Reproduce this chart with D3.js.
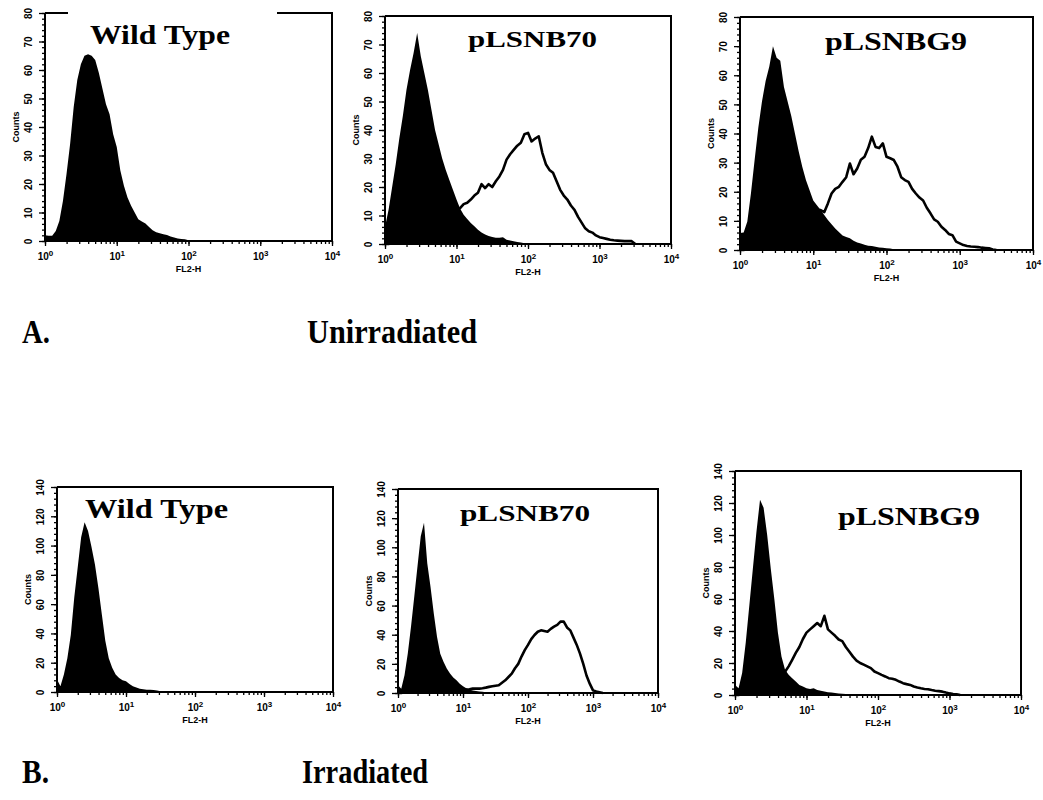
<!DOCTYPE html>
<html>
<head>
<meta charset="utf-8">
<script src="https://cdn.jsdelivr.net/npm/d3@7"></script>
<style>
body { margin: 0; background: #fff; }
svg { display: block; }
</style>
</head>
<body>
<div id="chart"></div>
<script>

// FL2-H channel positions, in decades (log10 of fluorescence)
var decades = [0, 0.05, 0.1, 0.15, 0.2, 0.25, 0.3, 0.35, 0.4, 0.45, 0.5, 0.55, 0.6, 0.65, 0.7, 0.75, 0.8, 0.85, 0.9, 0.95,
    1, 1.05, 1.1, 1.15, 1.2, 1.25, 1.3, 1.35, 1.4, 1.45, 1.5, 1.55, 1.6, 1.65, 1.7, 1.75, 1.8, 1.85, 1.9, 1.95,
    2, 2.05, 2.1, 2.15, 2.2, 2.25, 2.3, 2.35, 2.4, 2.45, 2.5, 2.55, 2.6, 2.65, 2.7, 2.75, 2.8, 2.85, 2.9, 2.95,
    3, 3.05, 3.1, 3.15, 3.2, 3.25, 3.3, 3.35, 3.4, 3.45, 3.5];

// counts, unirradiated
var wtUnirrFilled = [2, 1.8, 1.8, 3.5, 7, 14, 23.5, 34, 47, 56.5, 62, 65, 65.5, 65, 63.5, 59, 53.5, 48, 44.5, 37.5,
    33, 24.7, 19.4, 15.3, 12.4, 10, 7.6, 6.8, 6.1, 4.9, 3.8, 3.1, 2.7, 2.4, 2.1, 1.6, 1.2, 0.9, 0.7, 0.6,
    0.3, 0.1, 0];
var b70UnirrFilled = [6, 12, 20, 28, 37, 45, 54, 61, 67, 74, 66, 60, 54, 47, 40, 35, 30, 26, 22.5, 19,
    15.6, 12.5, 10.3, 8.8, 7.4, 6.2, 5, 4, 3.3, 2.8, 2.5, 2.2, 2.2, 2.4, 1.5, 1.2, 1, 0.7, 0.5, 0.3,
    0.2, 0];
var b70UnirrOpen = [0, 0, 0.5, 0.8, 1, 1.5, 2, 2.5, 3, 3.5, 4, 4.5, 5, 5.5, 6, 7, 8, 9, 10, 11,
    12, 12.6, 14, 14.5, 15.6, 17, 18, 21, 19.6, 21, 20, 22, 23.7, 26, 29.6, 31.5, 33, 34.5, 35.5, 38.5,
    39, 36, 37, 37.8, 32, 28, 26, 25, 22, 19, 17, 15.6, 13.5, 12, 9.5, 7.5, 5.5, 4.5, 4, 3,
    2.4, 2.1, 1.8, 1.5, 1.3, 1.2, 1.1, 1, 1, 1, 0];
var bg9UnirrFilled = [5.8, 6, 9.8, 19.6, 31, 42, 51, 58, 63, 70, 66, 65, 56, 51, 46, 40, 34, 28.6, 24, 20.5,
    17, 15.4, 13.7, 12, 10.3, 8.8, 7.4, 6.2, 5, 4.5, 4, 3.2, 2.6, 2.2, 1.8, 1.5, 1.4, 1.1, 0.9, 0.8,
    0.6, 0.5, 0.3, 0.2, 0.1, 0];
var bg9UnirrOpen = [0, 0, 0.5, 0.8, 1, 1.5, 2, 2.5, 3, 3.5, 4, 4.5, 5, 6, 7, 8, 9, 10, 11, 12.5,
    13.5, 13.8, 13.7, 13, 16, 19.4, 21, 21.7, 23.4, 25, 29.7, 26, 28, 31, 32, 35, 38.9, 35.4, 35, 36.6,
    32, 31.5, 30.9, 28.6, 25, 24, 23.4, 21, 19.4, 18, 17, 14.5, 12.6, 10.5, 9.7, 8, 6.9, 5.5, 5.1, 2.9,
    2.3, 1.7, 1.4, 1.2, 1.1, 1, 0.8, 0.7, 0.6, 0.2, 0];

// counts, irradiated
var wtIrrFilled = [8.5, 4, 12, 23, 39, 64.5, 85, 105.7, 116, 110, 99, 87, 71, 53, 35, 23, 16.5, 12, 9.6, 8,
    7.3, 5.5, 3.9, 3, 2.3, 1.9, 1.6, 1.5, 1.4, 1, 0.5, 0.3, 0.2, 0];
var b70IrrFilled = [5.3, 3, 12.2, 27, 45.5, 66, 87, 107.6, 116.8, 89, 73, 54.7, 38.6, 27, 21.4, 16.8, 13.3, 10.6, 8.7, 6.4,
    4.6, 3.2, 2.3, 1.8, 1.4, 1.1, 0.8, 0.6, 0.5, 0.4, 0.3, 0.2, 0.1, 0];
var b70IrrOpen = [0, 0, 0.5, 0.8, 1, 1.2, 1.5, 1.7, 2, 2, 2, 2, 2, 2, 2, 2, 2, 2, 2, 2.2,
    2.3, 2.3, 2.5, 3, 3, 3, 3.3, 3.7, 4.2, 4.6, 5, 5.3, 7, 8.7, 11, 13.3, 17, 20, 25, 29.4,
    33, 37, 39.8, 42, 43, 42.5, 42, 44, 45.5, 46.7, 49, 49, 45, 43, 38, 33, 27, 20, 12, 6.4,
    1.8, 1, 0.5, 0];
var bg9IrrFilled = [6.3, 4.2, 13.7, 32.6, 55.8, 79, 102, 122, 117, 100, 79, 60, 39, 24, 15.8, 12.6, 10.5, 8.4, 6.3, 5.3,
    4.2, 3.8, 4.2, 3.2, 2.7, 2.2, 1.7, 1.5, 1.3, 1, 0.8, 0.6, 0.5, 0.4, 0.3, 0.2, 0.1, 0];
var bg9IrrOpen = [0, 0, 1, 1.5, 2, 2.5, 3, 3.5, 4, 5, 6, 8, 10, 12, 14.5, 17.9, 22, 26.3, 30, 35,
    39, 41, 43, 45, 43, 49.5, 41, 39, 37, 34.7, 33.7, 30, 27, 24, 21.5, 20, 19, 17.9, 16.8, 14.7,
    13.7, 12.6, 11.6, 10.5, 10.2, 9.5, 8.4, 7.4, 6.8, 6.3, 5.3, 4.7, 4.2, 3.8, 3.6, 3.1, 2.7, 2.4, 2.1, 1.5,
    1, 0.6, 0.4, 0];

var panelTitles = ["Wild Type", "pLSNB70", "pLSNBG9", "Wild Type", "pLSNB70", "pLSNBG9"];
var filledSeries = [wtUnirrFilled, b70UnirrFilled, bg9UnirrFilled, wtIrrFilled, b70IrrFilled, bg9IrrFilled];
var openSeries = [null, b70UnirrOpen, bg9UnirrOpen, null, b70IrrOpen, bg9IrrOpen];
var countMax = [80, 80, 80, 140, 140, 140];
var countMajor = [10, 10, 10, 20, 20, 20];
var countMinor = [2, 2, 2, 4, 4, 4];
var xMajorTicks = [1, 10, 100, 1000, 10000];
var xExponents = ["0", "1", "2", "3", "4"];

// page layout of each histogram box
var panels = [
    { left: 45, right: 332, top: 13, bottom: 241, tx: 90, ty: 44, tw: 140, ts: 27, gap: [68, 277] },
    { left: 385, right: 671, top: 16, bottom: 244, tx: 468, ty: 47, tw: 129, ts: 24 },
    { left: 740, right: 1033, top: 17, bottom: 250, tx: 825, ty: 50, tw: 142, ts: 25 },
    { left: 57, right: 333, top: 487, bottom: 692, tx: 85, ty: 518, tw: 143, ts: 28 },
    { left: 398, right: 658, top: 489, bottom: 693, tx: 460, ty: 521, tw: 130, ts: 24 },
    { left: 735, right: 1021, top: 471, bottom: 695, tx: 838, ty: 525, tw: 142, ts: 25 }
];

var sans = "'Liberation Sans', Arial, sans-serif";
var serif = "'Liberation Serif', 'Times New Roman', serif";

var svg = d3.select("#chart")
    .append("svg")
    .attr("width", 1043)
    .attr("height", 800)
    .style("background", "#fff");

function dropDomain(s) {
    s.select(".domain").remove();
    s.selectAll(".tick text").remove();
    s.selectAll(".tick line").attr("stroke", "#000").attr("stroke-width", 1.3);
}

panels.forEach(function (p, i) {
    var x = d3.scaleLog().domain([1, 10000]).range([p.left, p.right]);
    var y = d3.scaleLinear().domain([0, countMax[i]]).range([p.bottom, p.top]);
    var g = svg.append("g");
    var px = function (d, j) { return x(Math.pow(10, decades[j])); };

    // filled (control) histogram
    g.append("path")
        .datum(filledSeries[i])
        .attr("d", d3.area().x(px).y0(y(0)).y1(function (d) { return y(d); }))
        .attr("fill", "#000");

    // open histogram
    if (openSeries[i]) {
        g.append("path")
            .datum(openSeries[i])
            .attr("d", d3.line().x(px).y(function (d) { return y(d); }))
            .attr("fill", "none")
            .attr("stroke", "#000")
            .attr("stroke-width", 2.6)
            .attr("stroke-linejoin", "round");
    }

    // x axis: log minor ticks + decades
    g.append("g")
        .attr("transform", "translate(0," + p.bottom + ")")
        .call(d3.axisBottom(x).tickValues(x.ticks()).tickSize(3).tickFormat(""))
        .call(dropDomain);
    var xMaj = g.append("g")
        .attr("transform", "translate(0," + p.bottom + ")")
        .call(d3.axisBottom(x).tickValues(xMajorTicks).tickSize(5).tickFormat(""))
        .call(dropDomain);
    xMaj.selectAll(".tick").each(function (d, k) {
        var t = d3.select(this).append("text")
            .attr("y", 19)
            .attr("text-anchor", "middle")
            .attr("fill", "#000")
            .style("font-family", sans)
            .style("font-weight", "bold")
            .style("font-size", "10px")
            .text("10");
        t.append("tspan")
            .attr("dy", -4)
            .style("font-size", "8px")
            .text(xExponents[k]);
    });

    // y axis
    g.append("g")
        .attr("transform", "translate(" + p.left + ",0)")
        .call(d3.axisLeft(y).tickValues(d3.range(0, countMax[i] + 0.1, countMinor[i])).tickSize(3).tickFormat(""))
        .call(dropDomain);
    var yMaj = g.append("g")
        .attr("transform", "translate(" + p.left + ",0)")
        .call(d3.axisLeft(y).tickValues(d3.range(0, countMax[i] + 0.1, countMajor[i])).tickSize(6))
        .call(dropDomain);
    yMaj.selectAll(".tick").append("text")
        .attr("transform", "translate(-17,0) rotate(-90)")
        .attr("dy", "0.36em")
        .attr("text-anchor", "middle")
        .attr("fill", "#000")
        .style("font-family", sans)
        .style("font-weight", "bold")
        .style("font-size", "10px")
        .text(function (d) { return d; });

    // frame
    var frame = "M" + p.left + "," + p.top + "V" + p.bottom + "H" + p.right + "V" + p.top;
    if (p.gap) {
        frame += "H" + p.gap[1] + "M" + p.gap[0] + "," + p.top + "H" + p.left;
    } else {
        frame += "H" + p.left;
    }
    g.append("path")
        .attr("d", frame)
        .attr("fill", "none")
        .attr("stroke", "#000")
        .attr("stroke-width", 2);

    // axis titles
    g.append("text")
        .attr("transform", "translate(" + (p.left - 29) + "," + ((p.top + p.bottom) / 2) + ") rotate(-90)")
        .attr("dy", "0.36em")
        .attr("text-anchor", "middle")
        .style("font-family", sans)
        .style("font-weight", "bold")
        .style("font-size", "9px")
        .text("Counts");
    g.append("text")
        .attr("x", (p.left + p.right) / 2)
        .attr("y", p.bottom + 31)
        .attr("text-anchor", "middle")
        .style("font-family", sans)
        .style("font-weight", "bold")
        .style("font-size", "9px")
        .text("FL2-H");

    // panel title
    g.append("text")
        .attr("x", p.tx)
        .attr("y", p.ty)
        .attr("textLength", p.tw)
        .attr("lengthAdjust", "spacingAndGlyphs")
        .style("font-family", serif)
        .style("font-weight", "bold")
        .style("font-size", p.ts + "px")
        .text(panelTitles[i]);
});

// section labels
var sectionLetters = ["A.", "B."];
var sectionNames = ["Unirradiated", "Irradiated"];
var sectionLayout = [
    { y: 343, lw: 28, nx: 307, nw: 170 },
    { y: 783, lw: 27, nx: 302, nw: 126 }
];
sectionLayout.forEach(function (s, i) {
    svg.append("text")
        .attr("x", 22).attr("y", s.y)
        .attr("textLength", s.lw).attr("lengthAdjust", "spacingAndGlyphs")
        .style("font-family", serif).style("font-weight", "bold").style("font-size", "33px")
        .text(sectionLetters[i]);
    svg.append("text")
        .attr("x", s.nx).attr("y", s.y)
        .attr("textLength", s.nw).attr("lengthAdjust", "spacingAndGlyphs")
        .style("font-family", serif).style("font-weight", "bold").style("font-size", "34px")
        .text(sectionNames[i]);
});

</script>
</body>
</html>
